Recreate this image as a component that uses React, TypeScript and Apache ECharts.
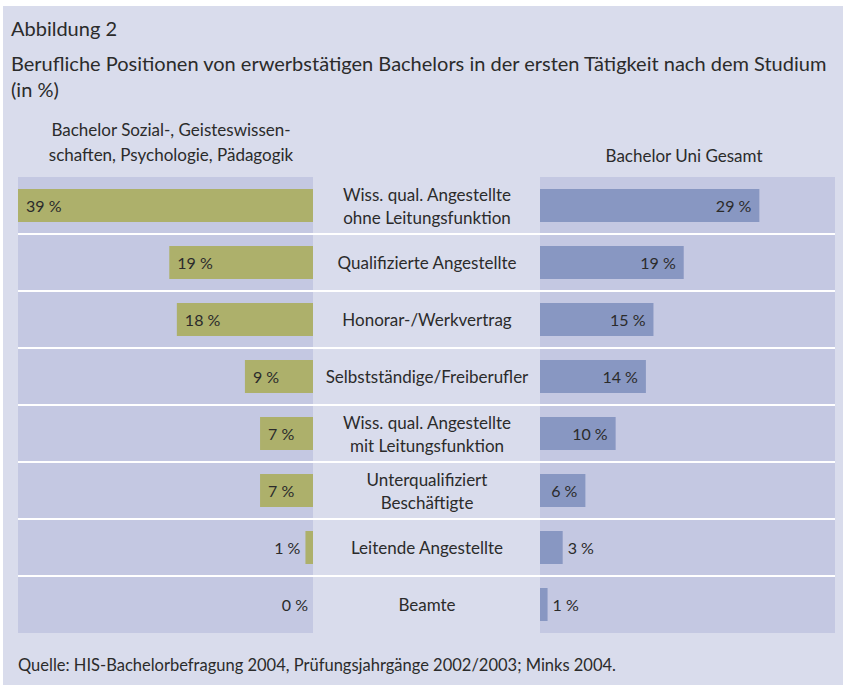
import React, { useEffect, useRef } from 'react';
import * as echarts from 'echarts';

const categories = [
  'Wiss. qual. Angestellte\nohne Leitungsfunktion',
  'Qualifizierte Angestellte',
  'Honorar-/Werkvertrag',
  'Selbstständige/Freiberufler',
  'Wiss. qual. Angestellte\nmit Leitungsfunktion',
  'Unterqualifiziert\nBeschäftigte',
  'Leitende Angestellte',
  'Beamte',
];
const leftValues = [39, 19, 18, 9, 7, 7, 1, 0];
const rightValues = [29, 19, 15, 14, 10, 6, 3, 1];
const leftSeriesName = 'Bachelor Sozial-, Geisteswissen-\nschaften, Psychologie, Pädagogik';
const rightSeriesName = 'Bachelor Uni Gesamt';
const figureLabel = 'Abbildung 2';
const titleText = 'Berufliche Positionen von erwerbstätigen Bachelors in der ersten Tätigkeit nach dem Studium\n(in %)';
const sourceText = 'Quelle: HIS-Bachelorbefragung 2004, Prüfungsjahrgänge 2002/2003; Minks 2004.';
const axisMax = 39;
const outsideThreshold = 5;

const FONT = 'Lato, "DejaVu Sans", sans-serif';
const TEXT = '#2b2b2b';
const PANEL = '#d9dcec';
const PLOT_BG = '#c4c8e2';
const GREEN = '#adb06b';
const BLUE = '#8897c2';

export default function App() {
  const ref = useRef<HTMLDivElement>(null);
  useEffect(() => {
    if (!ref.current) return;
    const chart = echarts.init(ref.current, undefined, { renderer: 'svg' });
    const labelBase = { show: true, color: TEXT, fontSize: 16, fontFamily: FONT, formatter: '{c} %' };
    const ts = (fontSize: number, lineHeight: number) => ({
      fontSize, lineHeight, fontWeight: 'normal', color: TEXT, fontFamily: FONT,
    });
    chart.setOption({
      animation: false,
      backgroundColor: '#ffffff',
      graphic: {
        elements: [
          { type: 'rect', z: -100, shape: { x: 3, y: 6, width: 840, height: 679 }, style: { fill: PANEL } },
        ],
      },
      title: [
        { text: figureLabel, left: 11, top: 16, padding: 0, textStyle: ts(20, 24) },
        { text: titleText, left: 11, top: 50, padding: 0, textStyle: ts(20, 26) },
        { text: leftSeriesName, left: 171, textAlign: 'center', top: 117, padding: 0, textStyle: { ...ts(17, 25), align: 'center' } },
        { text: rightSeriesName, left: 684, textAlign: 'center', top: 144, padding: 0, textStyle: ts(17, 22) },
        { text: sourceText, left: 18, top: 654, padding: 0, textStyle: ts(16.5, 22) },
      ],
      grid: [
        { left: 18, top: 177, width: 295, height: 456, show: true, backgroundColor: PLOT_BG, borderWidth: 0 },
        { left: 540, top: 177, width: 295, height: 456, show: true, backgroundColor: PLOT_BG, borderWidth: 0 },
        { left: 18, top: 177, width: 817, height: 456 },
      ],
      xAxis: [
        { gridIndex: 0, type: 'value', inverse: true, min: 0, max: axisMax, show: false },
        { gridIndex: 1, type: 'value', min: 0, max: axisMax, show: false },
        { gridIndex: 2, type: 'value', min: 0, max: 1, show: false },
      ],
      yAxis: [
        { gridIndex: 0, type: 'category', data: categories, inverse: true, show: false },
        {
          gridIndex: 1, type: 'category', data: categories, inverse: true,
          axisLine: { show: false }, axisTick: { show: false }, splitLine: { show: false },
          axisLabel: { align: 'center', margin: 113, fontSize: 17, color: TEXT, fontFamily: FONT, lineHeight: 23 },
        },
        {
          gridIndex: 2, type: 'category', data: categories, inverse: true,
          axisLine: { show: false }, axisTick: { show: false }, axisLabel: { show: false },
          splitLine: { show: true, showMinLine: false, showMaxLine: false, lineStyle: { color: '#ffffff', width: 2 } },
        },
      ],
      series: [
        {
          type: 'bar', name: leftSeriesName, xAxisIndex: 0, yAxisIndex: 0, barWidth: 33,
          itemStyle: { color: GREEN },
          label: { ...labelBase, position: 'insideLeft', distance: 8 },
          data: leftValues.map((v) => (v < outsideThreshold
            ? { value: v, label: { position: 'left', distance: 5 } }
            : { value: v })),
        },
        {
          type: 'bar', name: rightSeriesName, xAxisIndex: 1, yAxisIndex: 1, barWidth: 33,
          itemStyle: { color: BLUE },
          label: { ...labelBase, position: 'insideRight', distance: 8 },
          data: rightValues.map((v) => (v < outsideThreshold
            ? { value: v, label: { position: 'right', distance: 5 } }
            : { value: v })),
        },
      ],
    });
    return () => chart.dispose();
  }, []);
  return (
    <div style={{ position: 'fixed', left: 0, top: 0, width: 843, height: 685, background: '#fff' }}>
      <div ref={ref} style={{ width: 843, height: 685 }} />
    </div>
  );
}
